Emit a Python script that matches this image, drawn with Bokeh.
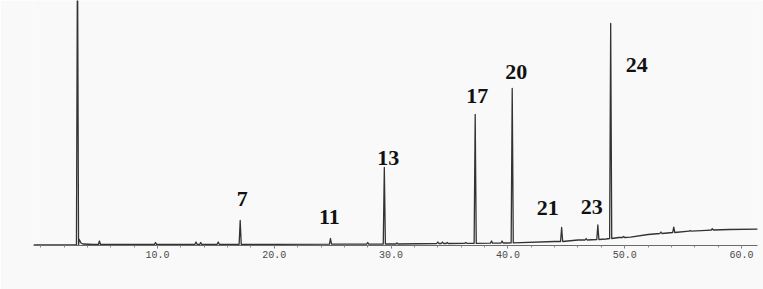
import numpy as np
from bokeh.plotting import figure
from bokeh.models import Range1d, FixedTicker, PrintfTickFormatter, ColumnDataSource
from bokeh.core.properties import value
from bokeh.embed import file_html
from bokeh.resources import INLINE

# ---------------- data ----------------
# retention time (min), apex height and local baseline level (arbitrary response units)
peak_t    = [3.15, 5.03, 9.83, 13.3, 13.7, 15.2, 17.08, 24.81, 28.0, 29.42, 30.5,
             34.0, 34.4, 34.8, 36.4, 37.2, 38.6, 39.5, 40.37, 44.6, 46.7, 47.7,
             48.8, 49.9, 53.1, 54.2, 55.6, 57.5]
peak_top  = [300, 4.5, 3.0, 3.5, 3.0, 3.5, 25, 7, 3.0, 78, 2.5,
             3.5, 3.5, 3.0, 3.0, 131, 4.5, 4.5, 157, 18, 7, 20.5,
             222, 9, 13.5, 18.3, 15, 16.8]
peak_base = [0.5, 1.0, 1.2, 1.2, 1.2, 1.2, 1.2, 1.3, 1.4, 1.5, 1.5,
             2.0, 2.0, 2.0, 2.2, 2.2, 2.4, 2.5, 2.6, 4.0, 5.5, 6.0,
             7.0, 8.0, 12.0, 13.0, 14.3, 15.5]

# drifting baseline
base_t = [-0.6, 2.9, 3.6, 4.5, 10, 20, 30, 35, 40, 44, 46, 48.4, 49.5,
          50.5, 52, 53.1, 55.6, 57, 59, 61.4]
base_y = [0.5, 0.5, 1.5, 1.0, 1.2, 1.2, 1.5, 2.0, 2.5, 4.0, 5.5, 6.5, 8.0,
          8.3, 11.0, 12.5, 14.3, 15.2, 16.0, 16.3]

# numbered peaks
label_text = ["7", "11", "13", "17", "20", "21", "23", "24"]
label_peak = [17.08, 24.81, 29.42, 37.2, 40.37, 44.6, 47.7, 48.8]

tick_major = [10, 20, 30, 40, 50, 60]
tick_minor = list(range(0, 62, 2))

# ---------------- build trace ----------------
hw = 0.09  # half width of a peak foot (min)
pts = []
for t, top, b in zip(peak_t, peak_top, peak_base):
    pts += [(t - hw, b), (t, top), (t + hw, b)]
for t, y in zip(base_t, base_y):
    if all(abs(t - pt) > hw * 1.5 for pt in peak_t):
        pts.append((t, y))
# solvent tail
pts += [(3.3, 6.0), (3.45, 2.5)]
pts.sort(key=lambda p: p[0])
trace = ColumnDataSource(dict(t=[p[0] for p in pts], y=[p[1] for p in pts]))

# ---------------- figure ----------------
W, H = 763, 289
BG = "#f9f9f9"
p = figure(width=W, height=H, output_backend="svg", toolbar_location=None,
           x_range=Range1d(-0.616, 61.37), y_range=Range1d(0, 245),
           min_border_left=33, min_border_right=6, min_border_top=0,
           min_border_bottom=44)
p.background_fill_color = BG
p.border_fill_color = BG
p.outline_line_color = None
p.grid.visible = False
p.yaxis.visible = False

ax = p.xaxis[0]
ax.ticker = FixedTicker(ticks=tick_major, minor_ticks=tick_minor)
ax.formatter = PrintfTickFormatter(format="%.1f")
ax.axis_line_color = "#6a6a6a"
ax.axis_line_width = 1
ax.major_tick_line_color = "#777777"
ax.major_tick_in = 0
ax.major_tick_out = 3
ax.minor_tick_line_color = "#888888"
ax.minor_tick_in = 0
ax.minor_tick_out = 2
ax.major_label_standoff = 2
ax.major_label_text_font = "Liberation Mono"
ax.major_label_text_font_size = "10px"
ax.major_label_text_color = "#4a4a4a"

p.line("t", "y", source=trace, line_color="#333333", line_width=1.3,
       line_join="round")

# labels, offset in pixels from each peak apex
dx = [2, -1, 4, 2, 4, -14, -6, 26]
dy = [-22, -22, -10, -19, -17, -20, -18, 41]
apex = [peak_top[peak_t.index(t)] for t in label_peak]
lab = ColumnDataSource(dict(x=label_peak, y=apex, text=label_text, dx=dx,
                            dy=dy))
p.text(x="x", y="y", text="text", source=lab, x_offset="dx", y_offset="dy",
       text_align="center", text_baseline="middle",
       text_font=value("Liberation Serif"), text_font_style="bold",
       text_font_size="22px", text_color="#111111")

open("out.html", "w").write(file_html(p, INLINE))
